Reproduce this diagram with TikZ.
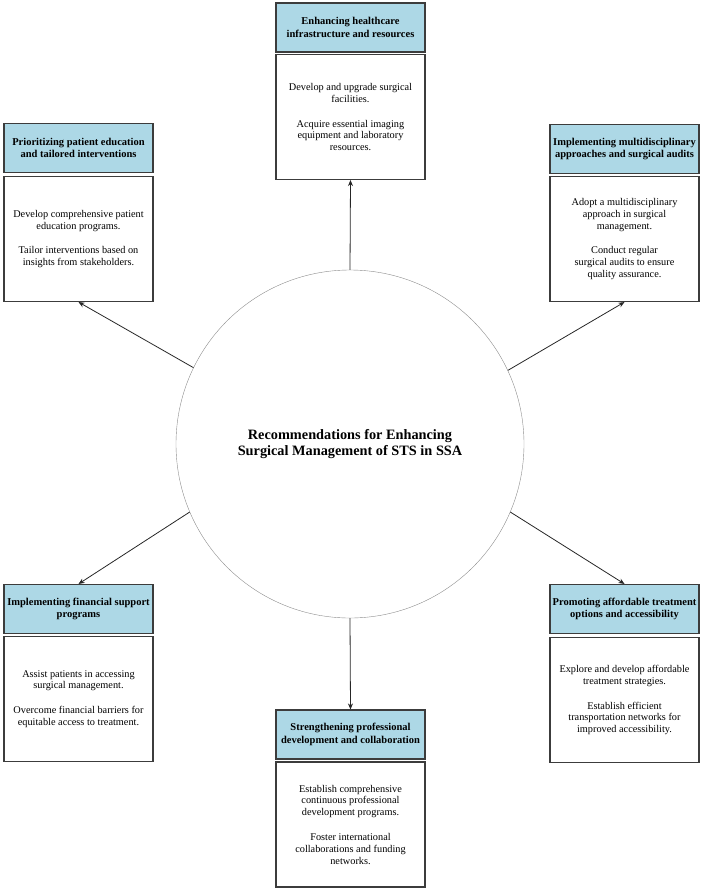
\documentclass[tikz,border=0pt]{standalone}
\usepackage{fontspec}
\setmainfont{Liberation Serif}
\usepackage{tikz}
\usetikzlibrary{arrows.meta, positioning}
\definecolor{Celeste}{RGB}{173, 216, 230}
\definecolor{Borde}{RGB}{60, 60, 60}

\begin{document}
\begin{tikzpicture}[x=1pt, y=-1pt,
        header/.style={rectangle, draw=Borde, fill=Celeste, line width=1.1pt, minimum width=149pt, minimum height=49pt, inner sep=1pt, align=center, font=\fontsize{10.5}{12.6}\selectfont\bfseries},
        body/.style={rectangle, draw=Borde, fill=white, line width=1.1pt, minimum width=149pt, minimum height=125pt, inner sep=2pt, align=center, font=\fontsize{10.3}{11.8}\selectfont},
        hub/.style={circle, draw=gray!90, thin, minimum size=348pt, inner sep=0pt, align=center, font=\fontsize{14.3}{16.8}\selectfont\bfseries},
        arrow/.style={line width=0.8pt, -{Stealth[length=6pt, width=5pt]}, draw=black!85}
    ]
        \useasboundingbox (0,0) rectangle (702,889);

        % ================= CENTRO =================
        \node[hub] (centro) at (350,444) {Recommendations for Enhancing\\Surgical Management of STS in SSA};

        % ================= ARRIBA: INFRAESTRUCTURA =================
        \node[header] (infra_h) at (350.5,27.5) {Enhancing healthcare\\infrastructure and resources};
        \node[body] (infra_b) at (350.5,117) {Develop and upgrade surgical\\facilities.\\[13pt]Acquire essential imaging\\equipment and laboratory\\resources.};

        % ================= ARRIBA IZQUIERDA: EDUCACION =================
        \node[header] (educ_h) at (78.5,148) {Prioritizing patient education\\and tailored interventions};
        \node[body] (educ_b) at (78.5,239) {Develop comprehensive patient\\education programs.\\[13pt]Tailor interventions based on\\insights from stakeholders.};

        % ================= ARRIBA DERECHA: AUDITORIAS =================
        \node[header] (audit_h) at (624.5,149) {Implementing multidisciplinary\\approaches and surgical audits};
        \node[body] (audit_b) at (624.5,239) {Adopt a multidisciplinary\\approach in surgical\\management.\\[13pt]Conduct regular\\surgical audits to ensure\\quality assurance.};

        % ================= ABAJO IZQUIERDA: FINANCIERO =================
        \node[header] (finan_h) at (78.5,609) {Implementing financial support\\programs};
        \node[body] (finan_b) at (78.5,699) {Assist patients in accessing\\surgical management.\\[13pt]Overcome financial barriers for\\equitable access to treatment.};

        % ================= ABAJO DERECHA: ACCESIBILIDAD =================
        \node[header] (acces_h) at (624.5,609) {Promoting affordable treatment\\options and accessibility};
        \node[body] (acces_b) at (624.5,700) {Explore and develop affordable\\treatment strategies.\\[13pt]Establish efficient\\transportation networks for\\improved accessibility.};

        % ================= ABAJO: DESARROLLO PROFESIONAL =================
        \node[header] (prof_h) at (350.5,734.5) {Strengthening professional\\development and collaboration};
        \node[body] (prof_b) at (350.5,824.5) {Establish comprehensive\\continuous professional\\development programs.\\[13pt]Foster international\\collaborations and funding\\networks.};

        % Flechas desde el centro
        \draw[arrow] (centro.north) -- (infra_b.south);
        \draw[arrow] (centro.154) -- (educ_b.south);
        \draw[arrow] (centro.25) -- (audit_b.south);
        \draw[arrow] (centro.203) -- (finan_h.north);
        \draw[arrow] (centro.-23) -- (acces_h.north);
        \draw[arrow] (centro.south) -- (prof_h.north);
    \end{tikzpicture}
\end{document}
